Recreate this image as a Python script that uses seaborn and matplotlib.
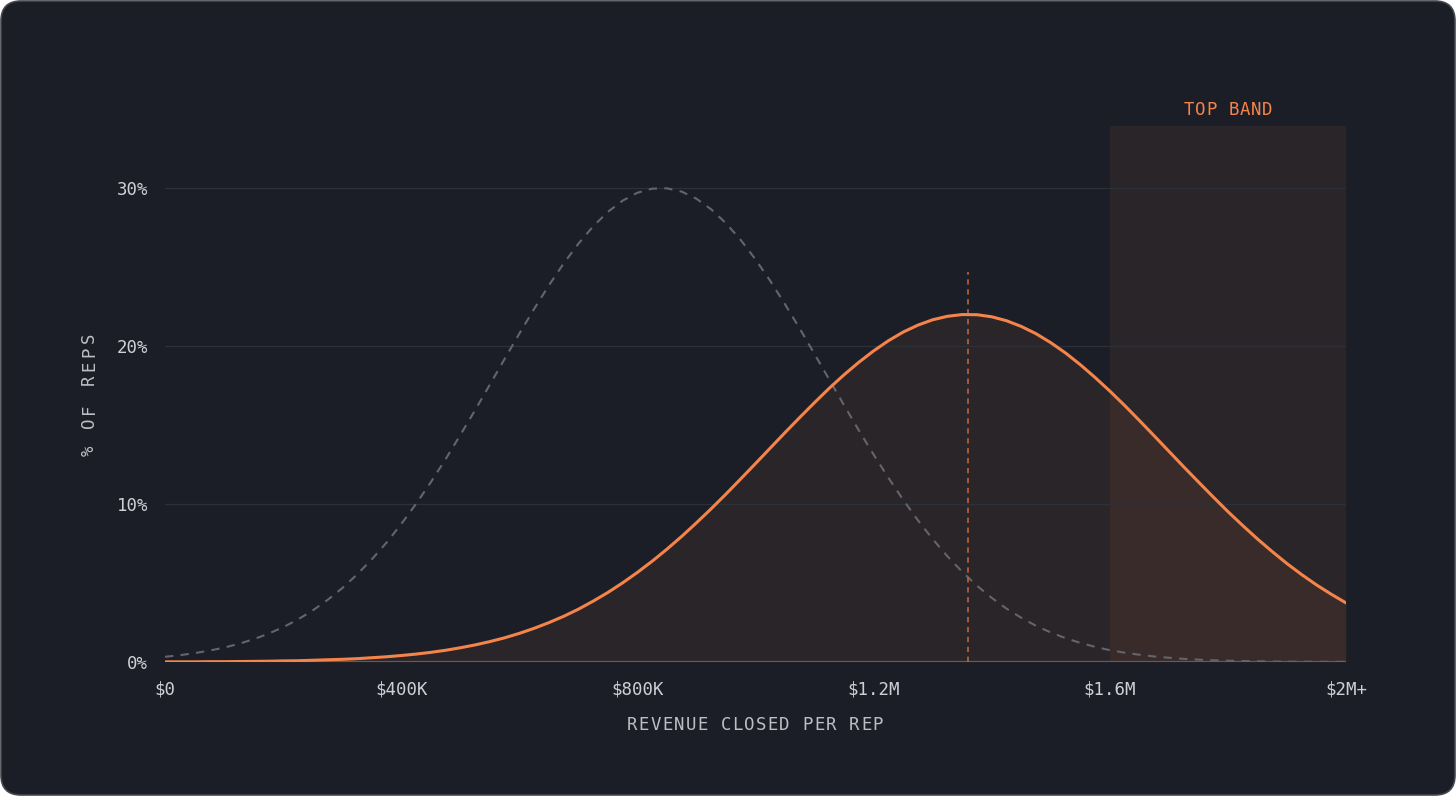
import numpy as np
import pandas as pd
import seaborn as sns
import matplotlib.pyplot as plt
from matplotlib.patches import FancyBboxPatch
from matplotlib.transforms import IdentityTransform

# revenue closed per rep, in $K (sampled every 25K)
revenue_k = np.arange(0, 2001, 25)

# % of reps
baseline_pct = [0.33, 0.43, 0.56, 0.72, 0.91, 1.15, 1.44, 1.79, 2.20, 2.69,
                3.26, 3.92, 4.67, 5.53, 6.49, 7.55, 8.73, 10.00, 11.37, 12.83,
                14.36, 15.93, 17.55, 19.17, 20.78, 22.34, 23.83, 25.22, 26.47, 27.57,
                28.49, 29.20, 29.70, 29.96, 29.98, 29.77, 29.32, 28.65, 27.77, 26.71,
                25.48, 24.12, 22.64, 21.10, 19.49, 17.87, 16.25, 14.66, 13.13, 11.66,
                10.27, 8.97, 7.78, 6.69, 5.71, 4.83, 4.06, 3.38, 2.80, 2.29,
                1.87, 1.51, 1.21, 0.96, 0.75, 0.59, 0.46, 0.35, 0.27, 0.20,
                0.15, 0.11, 0.08, 0.06, 0.05, 0.03, 0.02, 0.02, 0.01, 0.01,
                0.01]
team_pct = [0.01, 0.01, 0.01, 0.02, 0.02, 0.03, 0.04, 0.05, 0.07, 0.08,
            0.11, 0.14, 0.17, 0.21, 0.27, 0.33, 0.41, 0.50, 0.61, 0.74,
            0.90, 1.08, 1.29, 1.53, 1.81, 2.13, 2.49, 2.89, 3.34, 3.85,
            4.40, 5.01, 5.67, 6.38, 7.14, 7.95, 8.81, 9.70, 10.63, 11.59,
            12.56, 13.54, 14.52, 15.48, 16.42, 17.33, 18.18, 18.97, 19.69, 20.33,
            20.88, 21.32, 21.66, 21.88, 21.99, 21.98, 21.85, 21.60, 21.24, 20.78,
            20.21, 19.56, 18.82, 18.01, 17.15, 16.24, 15.29, 14.32, 13.34, 12.36,
            11.40, 10.45, 9.52, 8.64, 7.79, 6.99, 6.23, 5.53, 4.88, 4.29,
            3.74]

team_peak_k = 1360
team_peak_marker_top = 24.7
top_band_k = [1600, 2000]
top_band_height = 33.9

x_ticks = [0, 400, 800, 1200, 1600, 2000]
x_tick_labels = ["$0", "$400K", "$800K", "$1.2M", "$1.6M", "$2M+"]
y_ticks = [0, 10, 20, 30]
y_tick_labels = ["0%", "10%", "20%", "30%"]

BG = "#1b1e26"
ORANGE = "#f5844b"
GRAY = "#62656c"
TEXT = "#cdd0d5"
W, H = 1456, 796

df = pd.DataFrame({"revenue": revenue_k, "baseline": baseline_pct, "team": team_pct})

sns.set_style("dark", {"axes.facecolor": BG, "figure.facecolor": "white"})
plt.rcParams["font.family"] = ["DejaVu Sans Mono"]

fig = plt.figure(figsize=(W / 100, H / 100), dpi=100)
card = FancyBboxPatch((1, 1), W - 2, H - 2, boxstyle="round,pad=0,rounding_size=20",
                      transform=IdentityTransform(), facecolor=BG, edgecolor="#44474d",
                      linewidth=1.2, zorder=-5)
fig.patches.append(card)

ax = fig.add_axes([165 / W, 134 / H, 1181 / W, 553 / H])
ax.set_facecolor("none")

# top band
ax.fill_between(top_band_k, 0, top_band_height, color=ORANGE, alpha=0.07, linewidth=0, zorder=0.5)
# area under team curve
ax.fill_between(df["revenue"], 0, df["team"], color=ORANGE, alpha=0.07, linewidth=0, zorder=1)

for y in y_ticks[1:]:
    ax.axhline(y, color="#2c3038", linewidth=0.9, zorder=1.2)
ax.axhline(0, color="#5a5d63", linewidth=1.6, zorder=1.3)

sns.lineplot(data=df, x="revenue", y="baseline", ax=ax, color=GRAY, linewidth=1.5,
             dashes=False, zorder=2)
ax.lines[-1].set_dashes((4, 3.5))
ax.plot([team_peak_k, team_peak_k], [0, team_peak_marker_top], color="#c8693c",
        linewidth=1.1, dashes=(3.5, 3), zorder=2.5)
sns.lineplot(data=df, x="revenue", y="team", ax=ax, color=ORANGE, linewidth=2.2, zorder=3)

ax.set_xlim(0, 2000)
ax.set_ylim(0, 35)
ax.set_xticks(x_ticks, x_tick_labels)
ax.set_yticks(y_ticks, y_tick_labels)
ax.tick_params(axis="both", length=0, labelsize=12.5, colors=TEXT)
ax.tick_params(axis="y", pad=12)
ax.tick_params(axis="x", pad=13)
ax.set_xlabel("")
ax.set_ylabel("")
ax.grid(False)
for s in ax.spines.values():
    s.set_visible(False)


def spaced_text(s, cx, cy, pitch, rotation=0, **kw):
    # letter-spaced label placed in pixel coords measured from the top
    n = len(s)
    for i, ch in enumerate(s):
        off = (i - (n - 1) / 2) * pitch
        if rotation == 90:
            x, y = cx, cy - off
        else:
            x, y = cx + off, cy
        fig.text(x / W, 1 - y / H, ch, ha="center", va="center_baseline",
                 rotation=rotation, **kw)


spaced_text("REVENUE CLOSED PER REP", 755, 723, 11.7, fontsize=12.5, color="#bcc0c6")
spaced_text("% OF REPS", 89, 396, 14.2, rotation=90, fontsize=12.5, color="#bcc0c6")
spaced_text("TOP BAND", 1228, 108, 11.1, fontsize=12.5, color=ORANGE)

plt.savefig("out.png", dpi=100)
